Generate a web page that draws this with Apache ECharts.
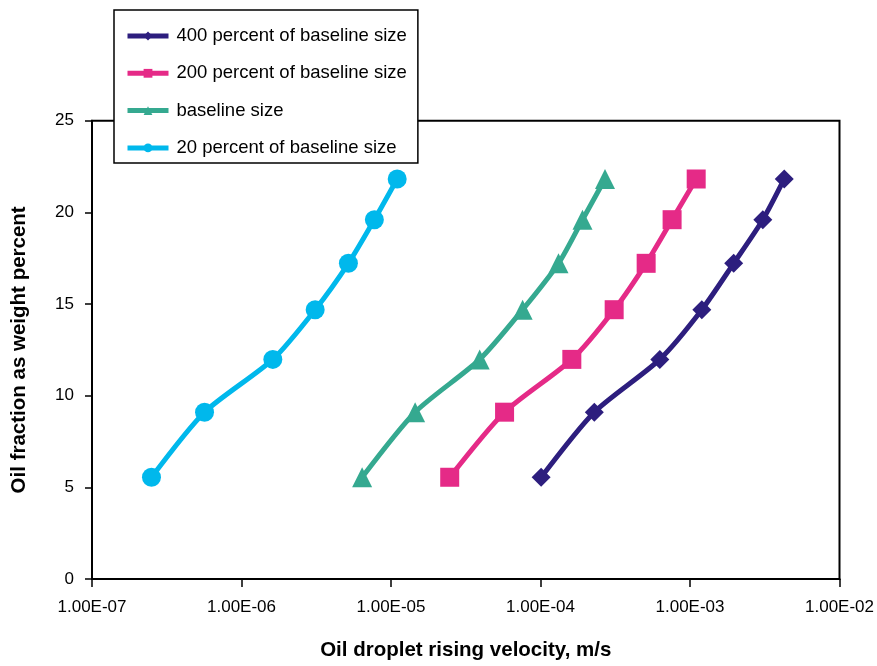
<!DOCTYPE html>
<html>
<head>
<meta charset="utf-8">
<script src="https://cdn.jsdelivr.net/npm/echarts@6/dist/echarts.min.js"></script>
<style>
  html, body { margin: 0; padding: 0; background: #fff; }
  #chart { width: 877px; height: 666px; }
</style>
</head>
<body>
<div id="chart"></div>
<script>
// Oil fraction (weight percent) at each sample point
const oilFraction = [5.55, 9.1, 11.98, 14.69, 17.22, 19.6, 21.82];

// Droplet rising velocities (m/s) for each droplet size
const velocity400 = [1.01e-4, 2.29e-4, 6.28e-4, 1.20e-3, 1.96e-3, 3.07e-3, 4.27e-3];
const velocity200 = [2.47e-5, 5.75e-5, 1.62e-4, 3.11e-4, 5.09e-4, 7.59e-4, 1.10e-3];
const velocityBase = [6.41e-6, 1.45e-5, 3.92e-5, 7.59e-5, 1.32e-4, 1.91e-4, 2.70e-4];
const velocity20 = [2.50e-7, 5.66e-7, 1.62e-6, 3.11e-6, 5.19e-6, 7.74e-6, 1.10e-5];

const seriesNames = [
  '400 percent of baseline size',
  '200 percent of baseline size',
  'baseline size',
  '20 percent of baseline size'
];
const seriesColors = ['#2D1E7E', '#E52A87', '#35A990', '#00B8EC'];
const seriesSymbols = ['diamond', 'rect', 'triangle', 'circle'];
const seriesVelocities = [velocity400, velocity200, velocityBase, velocity20];

const FONT = '"Liberation Sans", Arial, sans-serif';

// Scientific tick labels such as 1.00E-05
function sciLabel(v) {
  const exp = Math.round(Math.log10(v));
  const mant = v / Math.pow(10, exp);
  const e = String(Math.abs(exp)).padStart(2, '0');
  return mant.toFixed(2) + 'E' + (exp < 0 ? '-' : '+') + e;
}

const series = seriesNames.map((name, i) => ({
  name: name,
  type: 'line',
  data: seriesVelocities[i].map((v, k) => [v, oilFraction[k]]),
  smooth: 0.25,
  symbol: seriesSymbols[i],
  symbolSize: seriesSymbols[i] === 'triangle' ? 20 : 19,
  showAllSymbol: true,
  lineStyle: { color: seriesColors[i], width: 5 },
  itemStyle: { color: seriesColors[i] },
  emphasis: { disabled: true },
  z: 10 - i
}));

const chart = echarts.init(document.getElementById('chart'), null, { renderer: 'canvas' });
chart.setOption({
  animation: false,
  backgroundColor: '#ffffff',
  grid: {
    left: 92, right: 34.3, top: 120.7, bottom: 79.7,
    show: true, borderColor: '#000', borderWidth: 2, backgroundColor: 'transparent'
  },
  legend: {
    orient: 'vertical',
    left: 114, top: 10,
    padding: [16.5, 11, 5.5, 11],
    itemWidth: 41, itemHeight: 11, itemGap: 18.3,
    backgroundColor: '#fff',
    borderColor: '#000', borderWidth: 1.5,
    lineStyle: { width: 5 },
    textStyle: { fontFamily: FONT, fontSize: 18.5, lineHeight: 19, color: '#000', padding: [0, 0, 0, 3] },
    data: seriesNames,
    z: 20
  },
  xAxis: {
    type: 'log', logBase: 10, min: 1e-7, max: 1e-2,
    name: 'Oil droplet rising velocity, m/s',
    nameLocation: 'middle', nameGap: 61,
    nameTextStyle: { fontFamily: FONT, fontSize: 20.5, fontWeight: 'bold', color: '#000' },
    axisLine: { lineStyle: { color: '#000', width: 2 } },
    axisTick: { show: true, length: 8, lineStyle: { color: '#000', width: 1.5 } },
    minorTick: { show: false },
    splitLine: { show: false },
    axisLabel: { fontFamily: FONT, fontSize: 17, color: '#000', margin: 20, formatter: sciLabel }
  },
  yAxis: {
    type: 'value', min: 0, max: 25, interval: 5,
    name: 'Oil fraction as weight percent',
    nameLocation: 'middle', nameGap: 62,
    nameTextStyle: { fontFamily: FONT, fontSize: 20.5, fontWeight: 'bold', color: '#000' },
    axisLine: { show: true, lineStyle: { color: '#000', width: 2 } },
    axisTick: { show: true, length: 7, lineStyle: { color: '#000', width: 1.5 } },
    splitLine: { show: false },
    axisLabel: { fontFamily: FONT, fontSize: 17, color: '#000', margin: 18, padding: [0, 0, 7, 0] }
  },
  series: series
});
</script>
</body>
</html>
